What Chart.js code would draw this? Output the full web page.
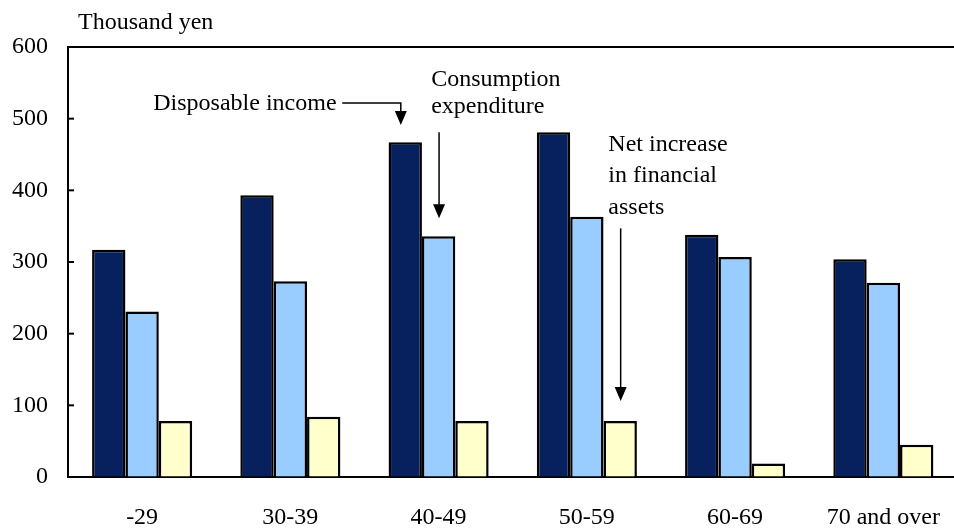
<!DOCTYPE html>
<html>
<head>
<meta charset="utf-8">
<script src="https://cdn.jsdelivr.net/npm/chart.js@4/dist/chart.umd.min.js"></script>
<style>
  html, body { margin: 0; padding: 0; background: #fff; overflow: hidden; }
  #wrap { width: 958px; height: 528px; }
</style>
</head>
<body>
<div id="wrap"><canvas id="myChart" width="958" height="528"></canvas></div>
<script>
// age groups of household head
const ageGroups = ['-29', '30-39', '40-49', '50-59', '60-69', '70 and over'];
// thousand yen
const disposableIncome = [317, 393, 467, 481, 338, 304];
const consumptionExp = [231, 273, 336, 363, 307, 271];
const netFinancial = [78, 84, 78, 78, 19, 45];
const yTicks = [0, 100, 200, 300, 400, 500, 600];

const serif = '"Liberation Serif", "DejaVu Serif", serif';

// notes and arrows, placed in category index / value units
const notes = [
  { lines: ['Disposable income'], x: 0.075, y: [521] },
  { lines: ['Consumption', 'expenditure'], x: 1.95, y: [554, 517] },
  { lines: ['Net increase', 'in financial', 'assets'], x: 3.145, y: [464, 421, 376] }
];
const arrows = [
  { pts: [[1.35, 522], [1.745, 522], [1.745, 491]] },
  { pts: [[2.003, 481], [2.003, 361]] },
  { pts: [[3.228, 347], [3.228, 106]] }
];

const extras = {
  id: 'extras',
  afterDraw(chart) {
    const c = chart.ctx;
    const xs = chart.scales.x, ys = chart.scales.y;
    const a = chart.chartArea;
    const px = v => xs.getPixelForValue(0) + v * (xs.getPixelForValue(1) - xs.getPixelForValue(0));
    c.save();
    // top frame line
    c.strokeStyle = '#000';
    c.lineWidth = 2;
    c.beginPath();
    c.moveTo(a.left, a.top);
    c.lineTo(a.right, a.top);
    c.stroke();
    // inward ticks on y axis
    yTicks.forEach(t => {
      const y = ys.getPixelForValue(t);
      c.beginPath();
      c.moveTo(a.left, y);
      c.lineTo(a.left + 6, y);
      c.stroke();
    });
    // unit label
    c.fillStyle = '#000';
    c.font = '24px ' + serif;
    c.textBaseline = 'middle';
    c.textAlign = 'left';
    c.fillText('Thousand yen', 78, 23);
    // notes
    notes.forEach(n => {
      n.lines.forEach((s, i) => c.fillText(s, px(n.x), ys.getPixelForValue(n.y[i])));
    });
    // arrows
    c.lineWidth = 1.5;
    arrows.forEach(ar => {
      const p = ar.pts.map(q => [px(q[0]), ys.getPixelForValue(q[1])]);
      const end = p[p.length - 1];
      c.beginPath();
      c.moveTo(p[0][0], p[0][1]);
      for (let i = 1; i < p.length - 1; i++) c.lineTo(p[i][0], p[i][1]);
      c.lineTo(end[0], end[1] - 12);
      c.stroke();
      c.beginPath();
      c.moveTo(end[0] - 6, end[1] - 14);
      c.lineTo(end[0] + 6, end[1] - 14);
      c.lineTo(end[0], end[1]);
      c.closePath();
      c.fill();
    });
    c.restore();
  }
};

const ctx = document.getElementById('myChart').getContext('2d');
const myChart = new Chart(ctx, {
  type: 'bar',
  data: {
    labels: ageGroups,
    datasets: [
      { label: 'Disposable income', data: disposableIncome, backgroundColor: '#06215e', borderColor: '#000', borderWidth: 2.5 },
      { label: 'Consumption expenditure', data: consumptionExp, backgroundColor: '#99ccff', borderColor: '#000', borderWidth: 2.5 },
      { label: 'Net increase in financial assets', data: netFinancial, backgroundColor: '#ffffcc', borderColor: '#000', borderWidth: 2.5 }
    ]
  },
  options: {
    responsive: false,
    animation: false,
    layout: { padding: { top: 47, right: 0, left: 0, bottom: 0 } },
    datasets: { bar: { categoryPercentage: 0.675, barPercentage: 1 } },
    plugins: { legend: { display: false }, tooltip: { enabled: false } },
    scales: {
      x: {
        grid: { display: false },
        border: { color: '#000', width: 2 },
        ticks: { color: '#000', font: { family: serif, size: 24 }, padding: 18, maxRotation: 0 },
        afterFit(s) { s.height = 51; }
      },
      y: {
        min: 0, max: 600,
        afterBuildTicks(s) { s.ticks = yTicks.map(v => ({ value: v })); },
        grid: { drawOnChartArea: false, drawTicks: false },
        border: { color: '#000', width: 2 },
        ticks: { color: '#000', font: { family: serif, size: 24 }, padding: 20 },
        afterFit(s) { s.width = 68; }
      }
    }
  },
  plugins: [extras]
});
</script>
</body>
</html>
